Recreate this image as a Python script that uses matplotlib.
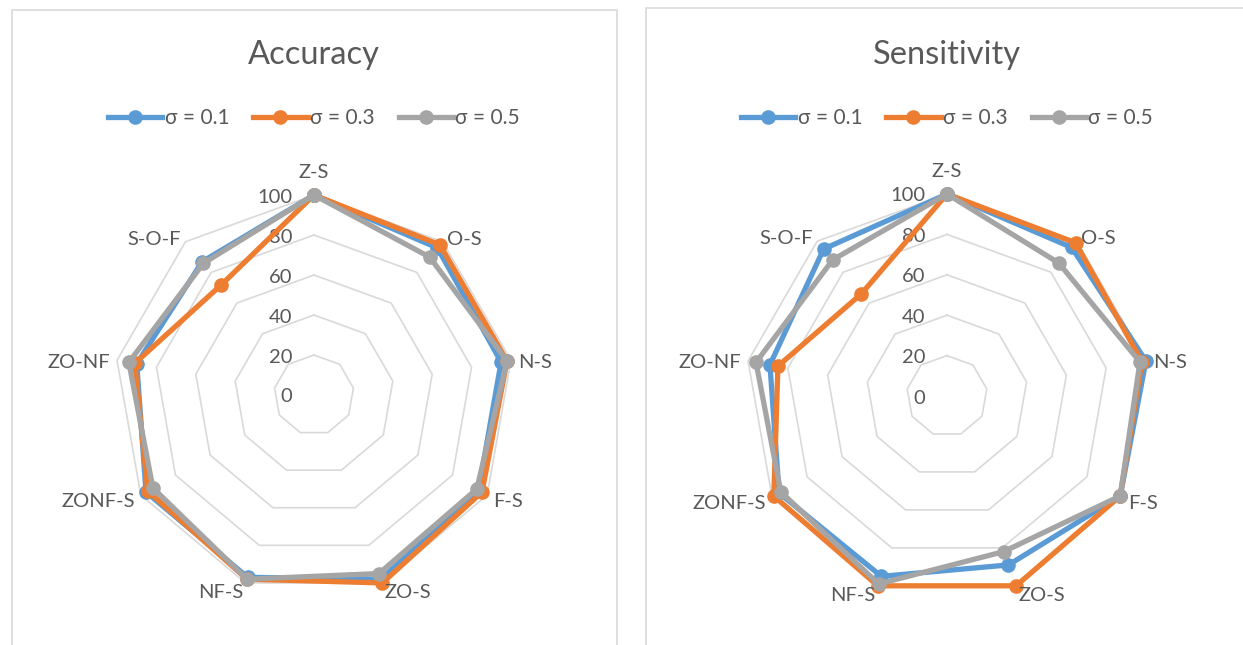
import numpy as np
import matplotlib.pyplot as plt
from matplotlib.patches import Rectangle

# categories around the radar, clockwise from the top
categories = ['Z-S', 'O-S', 'N-S', 'F-S', 'ZO-S', 'NF-S', 'ZONF-S', 'ZO-NF', 'S-O-F']
series_names = ['σ = 0.1', 'σ = 0.3', 'σ = 0.5']

# Accuracy panel
acc_s01 = [100, 96, 95, 95, 98, 97, 97, 90, 87]
acc_s03 = [100, 98, 98, 97, 100, 98, 96, 91, 72]
acc_s05 = [100, 90, 98, 94, 95, 98, 93, 94, 86]

# Sensitivity panel
sen_s01 = [100, 96, 100, 99, 89, 95, 96, 89, 95]
sen_s03 = [100, 99, 98, 99, 100, 100, 99, 85, 66]
sen_s05 = [100, 86, 97, 99, 82, 99, 95, 96, 88]

ring_levels = [20, 40, 60, 80, 100]
tick_values = [0, 20, 40, 60, 80, 100]

colors = ['#5B9BD5', '#ED7D31', '#A5A5A5']
grid_color = '#D9D9D9'
text_color = '#595959'
FONT = ['Lato', 'DejaVu Sans']

W, H = 1243, 645
fig = plt.figure(figsize=(W / 100, H / 100), dpi=100)
fig.patch.set_facecolor('white')


def px_rect(cx, cy, r):
    # axes rect (figure fraction) for a polar axes centred at pixel (cx, cy)
    return [(cx - r) / W, (H - cy - r) / H, 2 * r / W, 2 * r / H]


def radar(cx, cy, r, title, data):
    ax = fig.add_axes(px_rect(cx, cy, r), projection='polar')
    ax.set_theta_zero_location('N')
    ax.set_theta_direction(-1)
    ax.set_ylim(0, 100)
    ax.grid(False)
    ax.set_xticks([])
    ax.set_yticks([])
    ax.spines['polar'].set_visible(False)
    ax.patch.set_alpha(0)

    theta = np.arange(len(categories)) * 2 * np.pi / len(categories)
    theta_c = np.append(theta, theta[0])

    for lv in ring_levels:
        ax.plot(theta_c, [lv] * len(theta_c), color=grid_color, lw=1.2,
                zorder=1, clip_on=False)

    handles = []
    for vals, c, name in zip(data, colors, series_names):
        v = np.append(vals, vals[0])
        h, = ax.plot(theta_c, v, color=c, lw=3.8, marker='o', ms=9.5,
                     label=name, zorder=3, clip_on=False, solid_joinstyle='round')
        handles.append(h)

    # category labels
    for t, name in zip(theta, categories):
        s, c = np.sin(t), np.cos(t)
        if abs(s) < 0.1:
            ha, va, off = 'center', 'bottom', (0, 14)
        else:
            ha = 'left' if s > 0 else 'right'
            va = 'center'
            off = (7 * s, 7 * c - 3)
        ax.annotate(name, xy=(t, 100), xytext=off, textcoords='offset pixels',
                    ha=ha, va=va, fontsize=14.5, color=text_color, family=FONT,
                    annotation_clip=False)

    # radial value labels
    for v in tick_values:
        ax.annotate(str(v), xy=(0, v), xytext=(-22, -2), textcoords='offset pixels',
                    ha='right', va='center', fontsize=14.5, color=text_color,
                    family=FONT, annotation_clip=False, zorder=2)

    fig.text(cx / W, 1 - 55 / H, title, ha='center', va='center', fontsize=23.5,
             color=text_color, family=FONT)
    leg = fig.legend(handles=handles, loc='center', bbox_to_anchor=(cx / W, 1 - 118 / H),
                     ncol=3, frameon=False, handlelength=2.6, handletextpad=0.12,
                     columnspacing=1.15, prop={'family': FONT, 'size': 15})
    for txt in leg.get_texts():
        txt.set_color(text_color)
    return ax


# chart area borders
fig.add_artist(Rectangle((12 / W, -0.05), 605 / W, 1.05 - 10 / H, transform=fig.transFigure,
                         fill=False, edgecolor=grid_color, lw=1.2))
fig.add_artist(Rectangle((646 / W, -0.05), 0.5, 1.05 - 8 / H, transform=fig.transFigure,
                         fill=False, edgecolor=grid_color, lw=1.2))

radar(314, 395, 200, 'Accuracy', [acc_s01, acc_s03, acc_s05])
radar(947, 396, 202, 'Sensitivity', [sen_s01, sen_s03, sen_s05])

fig.savefig('out.png', dpi=100, facecolor='white')
